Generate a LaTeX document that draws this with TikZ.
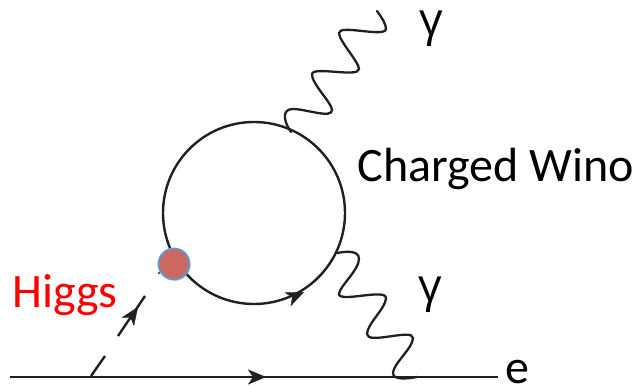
\documentclass[tikz,border=0pt]{standalone}
\usepackage{fontspec}
\setmainfont{Carlito}
\newfontfamily\gammafont{Open Sans}
\usetikzlibrary{arrows.meta,decorations.markings,shadows}
\definecolor{ink}{HTML}{231F20}
\tikzset{
  fermion/.style={draw=ink,line width=2.4pt},
  photon/.style={draw=ink,line width=2.3pt,line cap=round},
  midtip/.style={postaction={decorate},decoration={markings,mark=at position #1 with {\arrow{Stealth[length=18pt,width=15pt,inset=5pt,color=ink]}}}},
  lab/.style={inner sep=0pt,text=black,anchor=base,font=\fontsize{48}{48}\selectfont},
  gammalab/.style={inner sep=0pt,text=black,anchor=base,font=\gammafont\fontsize{46}{46}\selectfont}
}
\begin{document}
\begin{tikzpicture}[x=1pt,y=-1pt]
\useasboundingbox (0,0) rectangle (636,387);
% loop
\node[circle,draw=ink,line width=2.4pt,minimum size=182pt,inner sep=0pt] (loop) at (254,213) {};
% loop arrow
\coordinate (la1) at (284,301);
\coordinate (la2) at (304,292);
\path[midtip=1] (la1) -- (la2);
% electron line
\coordinate (eL) at (10,377);
\coordinate (eR) at (498,377);
\coordinate (eA) at (266,377);
\draw[fermion] (eL) -- (eR);
\path[midtip=1] (eL) -- (eA);
% Higgs
\coordinate (h0) at (91,376);
\coordinate (h1) at (105,356);
\coordinate (h2) at (118,336);
\coordinate (h3) at (145,296);
\coordinate (h4) at (138,307);
\draw[fermion] (h0) -- (h1);
\draw[fermion] (h2) -- (h3);
\path[midtip=1] (h2) -- (h4);
\fill[ink] (159,273) circle (1.2pt);
% top photon
\coordinate (t0) at (291,132);
\coordinate (t1) at (377,11);
\draw[photon] (t0) .. controls (284,122) and (281,109) .. (293,109)
  .. controls (306,109) and (332,119) .. (332,110)
  .. controls (332,103) and (311,83) .. (312,74)
  .. controls (313,66) and (359,78) .. (359,69)
  .. controls (359,62) and (339,41) .. (339,33)
  .. controls (339,24) and (385,38) .. (386,29)
  .. controls (386,24) and (382,18) .. (t1);
% bottom photon
\coordinate (b0) at (337,253);
\coordinate (b1) at (417,377);
\draw[photon] (b0) .. controls (343,252) and (359,249) .. (359,259)
  .. controls (359,270) and (339,287) .. (339,294)
  .. controls (339,303) and (386,288) .. (386,298)
  .. controls (386,308) and (367,324) .. (367,334)
  .. controls (367,345) and (413,328) .. (413,338)
  .. controls (413,348) and (393,364) .. (393,373)
  .. controls (393,380) and (406,379) .. (b1);
% red vertex
\node[circle,fill={rgb,255:red,204;green,104;blue,96},draw={rgb,255:red,91;green,155;blue,213},line width=1.8pt,minimum size=31pt,inner sep=0pt,drop shadow={shadow xshift=1pt,shadow yshift=-1.5pt,opacity=.3}] (vertex) at (174,264) {};
% labels
\node[lab] (wino) at (496,182) {Charged Wino};
\node[gammalab] (gtop) at (431,36) {γ};
\node[gammalab] (gbot) at (430,301) {γ};
\node[lab] (elab) at (517,383) {e};
\node[lab,text={rgb,255:red,255;green,0;blue,0}] (higgs) at (65,307) {Higgs};
\end{tikzpicture}
\end{document}
